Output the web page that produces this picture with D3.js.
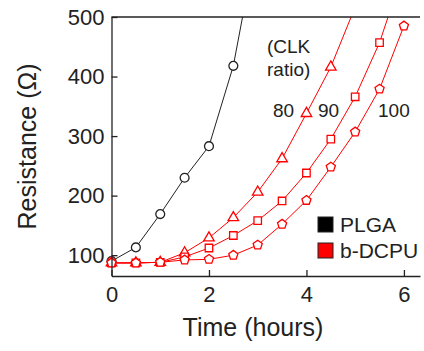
<!DOCTYPE html>
<html>
<head>
<meta charset="utf-8">
<script src="https://cdn.jsdelivr.net/npm/d3@7"></script>
<style>
	body { margin: 0; background: #fff; }
	text { font-family: "Liberation Sans", Arial, sans-serif; fill: #222; }
</style>
</head>
<body>
<div class="canvas"></div>
<script>
const times = [0, 0.5, 1, 1.5, 2, 2.5, 3, 3.5, 4, 4.5, 5, 5.5, 6];
const plga = [90, 113, 169, 230, 283, 418, 635];
const clk80 = [87, 87, 88, 104, 129, 163, 206, 262, 338, 416, 517];
const clk90 = [87, 87, 88, 97, 112, 133, 158, 191, 238, 295, 366, 457, 580];
const clk100 = [87, 87, 88, 92, 93, 100, 117, 152, 192, 248, 307, 379, 485];
const yTicks = [100, 200, 300, 400, 500];
const xTicks = [0, 2, 4, 6];
const ratioLabels = ["80", "90", "100"];
const legendNames = ["PLGA", "b-DCPU"];

const dims = { width: 424, height: 351 };
const margin = { left: 111.5, right: 4, top: 17, bottom: 75 };

const svg = d3
	.select(".canvas")
	.append("svg")
	.attr("width", dims.width)
	.attr("height", dims.height);

const x = d3
	.scaleLinear()
	.domain([0, 6.33])
	.range([margin.left, dims.width - margin.right]);
const y = d3
	.scaleLinear()
	.domain([65, 500])
	.range([dims.height - margin.bottom, margin.top]);

// custom polygon marker for d3.symbol
const polygon = (n) => ({
	draw(ctx, size) {
		const r = Math.sqrt(size) * 0.62;
		for (let i = 0; i < n; i++) {
			const a = -Math.PI / 2 + (i * 2 * Math.PI) / n;
			const px = r * Math.cos(a), py = r * Math.sin(a);
			i ? ctx.lineTo(px, py) : ctx.moveTo(px, py);
		}
		ctx.closePath();
	},
});

const series = [
	{ vals: plga, color: "#222", type: d3.symbolCircle, size: 62 },
	{ vals: clk80, color: "#ff0000", type: d3.symbolTriangle, size: 48 },
	{ vals: clk90, color: "#ff0000", type: d3.symbolSquare, size: 56 },
	{ vals: clk100, color: "#ff0000", type: polygon(5), size: 60 },
];

svg.append("clipPath").attr("id", "clip")
	.append("rect")
	.attr("x", 0)
	.attr("y", y(500))
	.attr("width", dims.width)
	.attr("height", dims.height);

const plot = svg.append("g").attr("clip-path", "url(#clip)");
const line = d3.line().x((d) => x(d[0])).y((d) => y(d[1]));

series.forEach((s) => {
	const pts = s.vals.map((v, i) => [times[i], v]);
	plot.append("path")
		.attr("d", line(pts))
		.attr("fill", "none")
		.attr("stroke", s.color)
		.attr("stroke-width", 1);
	plot.selectAll(null)
		.data(pts)
		.enter()
		.append("path")
		.attr("transform", (d) => `translate(${x(d[0])},${y(d[1])})`)
		.attr("d", d3.symbol().type(s.type).size(s.size))
		.attr("fill", "#fff")
		.attr("stroke", s.color)
		.attr("stroke-width", 1.3);
});

// axes
const xAxis = svg.append("g")
	.attr("transform", `translate(0,${y(65)})`)
	.call(d3.axisBottom(x).tickValues(xTicks).tickFormat(d3.format("d"))
		.tickSizeInner(-6).tickSizeOuter(0).tickPadding(10));
const yAxis = svg.append("g")
	.attr("transform", `translate(${x(0)},0)`)
	.call(d3.axisLeft(y).tickValues(yTicks).tickSizeInner(-6).tickSizeOuter(0).tickPadding(7));
[xAxis, yAxis].forEach((g) => {
	g.select(".domain").attr("stroke", "#222").attr("stroke-width", 1.3);
	g.selectAll(".tick line").attr("stroke", "#222").attr("stroke-width", 1.3);
	g.selectAll(".tick text").attr("font-size", 22).attr("fill", "#222")
		.attr("font-family", "'Liberation Sans', Arial, sans-serif");
});

svg.append("line")
	.attr("x1", x(0)).attr("x2", x(6.33))
	.attr("y1", y(500)).attr("y2", y(500))
	.attr("stroke", "#222").attr("stroke-width", 1.3);

svg.append("text")
	.attr("x", 253)
	.attr("y", 336)
	.attr("text-anchor", "middle")
	.attr("font-size", 25)
	.text("Time (hours)");

svg.append("text")
	.attr("transform", `translate(36,${(y(65) + y(500)) / 2}) rotate(-90)`)
	.attr("text-anchor", "middle")
	.attr("font-size", 25)
	.text("Resistance (Ω)");

// annotations
svg.append("text").attr("x", 267).attr("y", 53).attr("font-size", 19).text("(CLK");
svg.append("text").attr("x", 267).attr("y", 76).attr("font-size", 19).text("ratio)");
const ratioX = [273, 318, 378];
ratioLabels.forEach((t, i) => {
	svg.append("text").attr("x", ratioX[i]).attr("y", 117).attr("font-size", 19).text(t);
});

// legend
const legendColors = ["#000", "#ff0000"];
const legend = svg.append("g").attr("transform", "translate(318,217)");
legendNames.forEach((name, i) => {
	legend.append("rect")
		.attr("x", 0).attr("y", i * 26)
		.attr("width", 15).attr("height", 15)
		.attr("fill", legendColors[i])
		.attr("stroke", "#222");
	legend.append("text")
		.attr("x", 22).attr("y", i * 26 + 15)
		.attr("font-size", 21)
		.text(name);
});
</script>
</body>
</html>
